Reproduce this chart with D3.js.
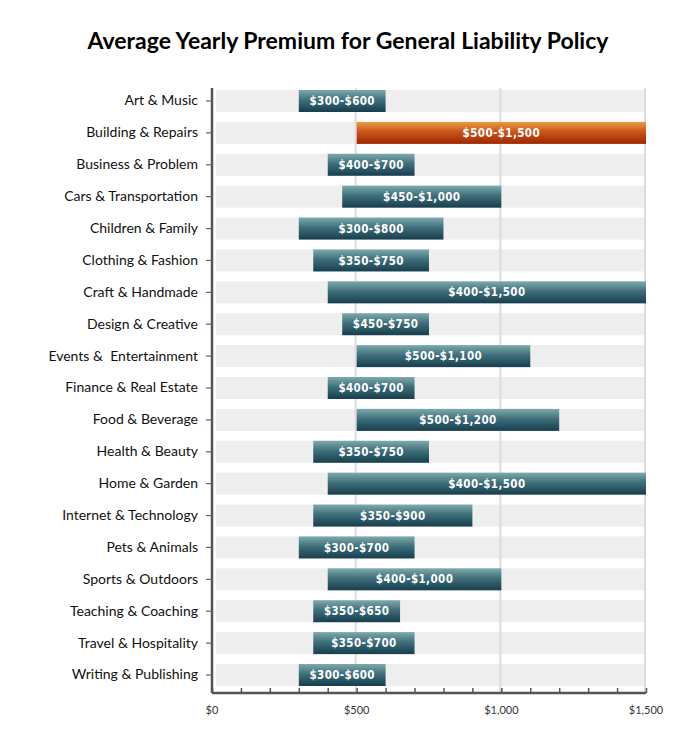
<!DOCTYPE html>
<html lang="en">
<head>
<meta charset="UTF-8">
<title>Average Yearly Premium for General Liability Policy</title>
<script src="https://d3js.org/d3.v7.min.js"></script>
<style>
  body { margin: 0; background: #fff; }
  svg { display: block; }
  svg text { white-space: pre; }
</style>
</head>
<body>
<div id="chart"></div>
<script>
// data
const categories = [
  "Art & Music", "Building & Repairs", "Business & Problem", "Cars & Transportation",
  "Children & Family", "Clothing & Fashion", "Craft & Handmade", "Design & Creative",
  "Events &  Entertainment", "Finance & Real Estate", "Food & Beverage", "Health & Beauty",
  "Home & Garden", "Internet & Technology", "Pets & Animals", "Sports & Outdoors",
  "Teaching & Coaching", "Travel & Hospitality", "Writing & Publishing"
];
const lowValues  = [300, 500, 400, 450, 300, 350, 400, 450, 500, 400, 500, 350, 400, 350, 300, 400, 350, 350, 300];
const highValues = [600, 1500, 700, 1000, 800, 750, 1500, 750, 1100, 700, 1200, 750, 1500, 900, 700, 1000, 650, 700, 600];
const highlighted = ["Building & Repairs"];
const xTicks = [0, 500, 1000, 1500];
const gridValues = [500, 1000, 1500];

const width = 696, height = 749;
const svg = d3.select("#chart").append("svg")
  .attr("width", width)
  .attr("height", height);

const defs = svg.append("defs");
const teal = defs.append("linearGradient").attr("id", "teal")
  .attr("x1", 0).attr("y1", 0).attr("x2", 0).attr("y2", 1);
teal.append("stop").attr("offset", "0%").attr("stop-color", "#7eaaae");
teal.append("stop").attr("offset", "45%").attr("stop-color", "#3f6f7b");
teal.append("stop").attr("offset", "100%").attr("stop-color", "#173e4e");
const orange = defs.append("linearGradient").attr("id", "orange")
  .attr("x1", 0).attr("y1", 0).attr("x2", 0).attr("y2", 1);
orange.append("stop").attr("offset", "0%").attr("stop-color", "#eb9a45");
orange.append("stop").attr("offset", "45%").attr("stop-color", "#c9561a");
orange.append("stop").attr("offset", "100%").attr("stop-color", "#9e2600");

const x = d3.scaleLinear().domain([0, 1500]).range([212, 646]);
const y = d3.scaleBand().domain(categories).range([90, 686]).paddingInner(0.31);
const axisY = 693;

// title
svg.append("text")
  .attr("x", width / 2)
  .attr("y", 49)
  .attr("text-anchor", "middle")
  .style("font-family", "Lato, 'Open Sans', sans-serif")
  .style("font-weight", "bold")
  .style("font-size", "23px")
  .style("fill", "#000")
  .text("Average Yearly Premium for General Liability Policy");

// background bands
svg.append("g").selectAll("rect")
  .data(categories)
  .join("rect")
  .attr("x", x(0) + 4)
  .attr("y", d => y(d))
  .attr("width", x(1500) - x(0) - 4)
  .attr("height", y.bandwidth())
  .attr("fill", "#eeeeee");

// gridlines
svg.append("g").selectAll("line")
  .data(gridValues)
  .join("line")
  .attr("x1", d => x(d) - 1).attr("x2", d => x(d) - 1)
  .attr("y1", 88).attr("y2", axisY)
  .attr("stroke", "#dcdcdc")
  .attr("stroke-width", 2);

// range bars
const rows = categories.map((c, i) => ({ cat: c, lo: lowValues[i], hi: highValues[i] }));
const fmt = d3.format("$,.0f");

svg.append("g").selectAll("rect")
  .data(rows)
  .join("rect")
  .attr("x", d => x(d.lo))
  .attr("y", d => y(d.cat))
  .attr("width", d => x(d.hi) - x(d.lo))
  .attr("height", y.bandwidth())
  .attr("fill", d => highlighted.includes(d.cat) ? "url(#orange)" : "url(#teal)");

svg.append("g").selectAll("text")
  .data(rows)
  .join("text")
  .attr("x", d => (x(d.lo) + x(d.hi)) / 2)
  .attr("y", d => y(d.cat) + y.bandwidth() / 2)
  .attr("dy", "0.36em")
  .attr("text-anchor", "middle")
  .style("font-family", "'DejaVu Sans Condensed', 'DejaVu Sans', sans-serif")
  .style("font-stretch", "condensed")
  .style("font-weight", "bold")
  .style("font-size", "11.5px")
  .style("letter-spacing", "0.4px")
  .style("fill", "#fff")
  .text(d => fmt(d.lo) + "-" + fmt(d.hi));

// left axis
const yAxis = svg.append("g")
  .attr("transform", `translate(${x(0)},0)`)
  .call(d3.axisLeft(y).tickSize(6).tickPadding(8));
yAxis.select(".domain").attr("stroke", "#555").attr("stroke-width", 2.5)
  .attr("d", `M0,88V${axisY}`);
yAxis.selectAll(".tick line").attr("stroke", "#666").attr("stroke-width", 1.2);
yAxis.selectAll(".tick text")
  .style("font-family", "Lato, 'Open Sans', sans-serif")
  .style("font-size", "14px")
  .style("fill", "#111");

// bottom axis
const xAxis = svg.append("g")
  .attr("transform", `translate(0,${axisY})`)
  .call(d3.axisBottom(x).tickValues(d3.range(0, 1501, 100)).tickSize(-5).tickFormat(""));
xAxis.select(".domain").attr("stroke", "#555").attr("stroke-width", 2.5)
  .attr("d", `M${x(0)},0H${x(1500)}`);
xAxis.selectAll(".tick line").attr("stroke", "#555").attr("stroke-width", 1.5);

svg.append("g").selectAll("text")
  .data(xTicks)
  .join("text")
  .attr("x", d => x(d))
  .attr("y", 714)
  .attr("text-anchor", "middle")
  .style("font-family", "Lato, 'Open Sans', sans-serif")
  .style("font-size", "11px")
  .style("fill", "#333")
  .text(d => fmt(d));
</script>
</body>
</html>
